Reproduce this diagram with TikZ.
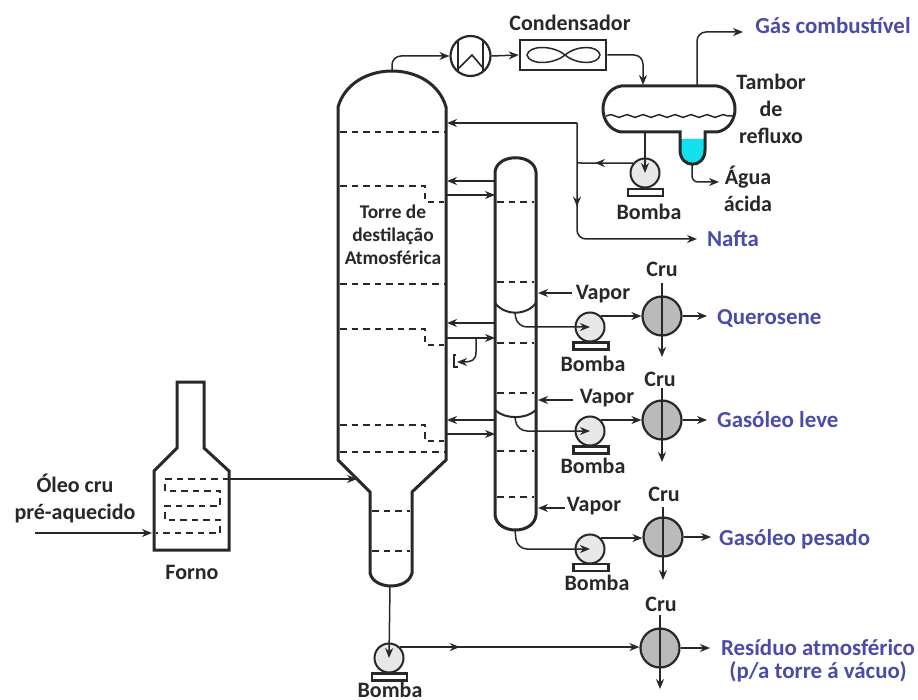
\documentclass[tikz,border=0pt]{standalone}
\usepackage{fontspec}
\setmainfont{Carlito}
\usetikzlibrary{arrows.meta,decorations.markings,decorations.pathmorphing}
\definecolor{ink}{HTML}{26282C}
\definecolor{prod}{HTML}{4A4CA8}
\definecolor{watr}{HTML}{12E0EE}
\tikzset{
 x=1pt,y=-1pt,
 vessel/.style={draw=ink,line width=3pt,line join=miter},
 tray/.style={draw=ink,line width=1.4pt,dash pattern=on 6.5pt off 5pt},
 pipe/.style={draw=ink,line width=1.5pt},
 flow/.style={pipe,-{Stealth[length=10pt,width=8pt]}},
 curved/.style={rounded corners=9pt},
 midflow/.style={postaction={decorate},decoration={markings,mark=at position #1 with {\arrow{Stealth[length=10pt,width=8pt]}}}},
 pumpbody/.style={circle,draw=ink,line width=2pt,fill=black!9,minimum size=29pt,inner sep=0pt},
 pumpbase/.style={draw=ink,line width=2.2pt,fill=white,minimum width=35pt,minimum height=7pt,inner sep=0pt},
 exch/.style={circle,draw=ink,line width=2.2pt,fill=black!27,minimum size=39pt,inner sep=0pt},
 lab/.style={text=ink,font=\bfseries\fontsize{22}{27}\selectfont,inner sep=0pt},
 prodlab/.style={text=prod,font=\bfseries\fontsize{22.9}{23}\selectfont,inner sep=0pt},
 small/.style={text=ink,font=\bfseries\fontsize{19.4}{23}\selectfont,inner sep=0pt},
}
\begin{document}
\begin{tikzpicture}
\useasboundingbox (0,0) rectangle (918,700);
\fill[white] (0,0) rectangle (918,700);
% ---- vessels
\path[vessel] (338,460) -- (338,107) .. controls (352,59) and (432,59) .. (446,107) -- (446,460)
 -- (412,492) -- (412,573) .. controls (408,590.3) and (374,590.3) .. (370,573) -- (370,492) -- cycle;
\path[vessel] (495,172) .. controls (497,153) and (534,153) .. (536,172) -- (536,515)
 .. controls (534,535) and (497,535) .. (495,515) -- cycle;
\path[vessel,line width=2pt] (495,303) .. controls (505,316) and (526,316) .. (536,303);
\path[vessel,line width=2pt] (495,410) .. controls (505,419.5) and (526,419.5) .. (536,410);
% tower trays
\foreach \y in {132,284,452} \path[tray] (340,\y) -- (444,\y);
\foreach \y/\z in {186/202,329/345,425/441} \path[tray] (340,\y) -- (425,\y) -- (425,\z) -- (444,\z);
\foreach \y in {511,551} \path[tray] (372,\y) -- (410,\y);
\foreach \y in {202,282,343,393,451,497} \path[tray] (497,\y) -- (534,\y);
% furnace
\path[vessel] (177,448) -- (177,382) -- (204,382) -- (204,448) -- (229,471) -- (229,550) -- (154,550) -- (154,471) -- cycle;
\path[tray] (229,479) -- (165,479) -- (165,491) -- (220,491) -- (220,506) -- (165,506) -- (165,520) -- (220,520) -- (220,533) -- (156,533);
% condenser shell
\node[circle,draw=ink,line width=2.2pt,minimum size=40pt,inner sep=0pt] (cool) at (470.5,56) {};
\path[pipe,line width=1.6pt] (458,40) -- (458,72) (483,40) -- (483,72) (459,68) -- (472,55) -- (483,68);
\node[draw=ink,line width=2.6pt,minimum width=86pt,minimum height=30pt,inner sep=0pt] (fan) at (563,55) {};
\path[pipe] (527,55) .. controls (529,45) and (553,45) .. (565,55) .. controls (577,45) and (598,45) .. (600,55)
 .. controls (598,65) and (577,65) .. (565,55) .. controls (553,65) and (529,65) .. (527,55) -- cycle;
% reflux drum
\fill[watr] (681,139) -- (704,139) -- (704,150) .. controls (704,168) and (681,168) .. (681,150) -- cycle;
\path[vessel] (621,86) -- (717,86) .. controls (729,88) and (735,99) .. (735,109) .. controls (735,119) and (729,130) .. (717,132)
 -- (705,132) -- (705,150) .. controls (705,169) and (680,169) .. (680,150) -- (680,132) -- (621,132)
 .. controls (609,130) and (603,119) .. (603,109) .. controls (603,99) and (609,88) .. (621,86) -- cycle;
\draw[pipe,decorate,decoration={snake,segment length=16pt,amplitude=1.4pt}] (606,116) -- (733,116);
% ---- pumps and exchangers
\node[pumpbody] (P0) at (645,173) {};
\node[pumpbase] (B0) at (645.5,192.5) {};
\node[pumpbody] (P1) at (590,327) {};
\node[pumpbase] (B1) at (591,346) {};
\node[pumpbody] (P2) at (590,431) {};
\node[pumpbase] (B2) at (591,450) {};
\node[pumpbody] (P3) at (590,549) {};
\node[pumpbase] (B3) at (591,567.5) {};
\node[pumpbody] (P4) at (389,658) {};
\node[pumpbase] (B4) at (389.5,677) {};
\node[exch] (E1) at (662,316) {};
\node[exch] (E2) at (662,420) {};
\node[exch] (E3) at (663,537) {};
\node[exch] (E4) at (660,648) {};
% ---- named ports
\coordinate (towertop) at (392,71);
\coordinate (towerbot) at (390,586);
\coordinate (drumin) at (643,85);
\coordinate (drumgas) at (697,85);
\coordinate (drumliq) at (645,132);
\coordinate (boot) at (692,165);
\coordinate (gasend) at (743,32);
\coordinate (aguaend) at (719,182);
\coordinate (naftaend) at (697,239);
\coordinate (refl) at (447,123);
\coordinate (rail) at (577,163);
\coordinate (railtop) at (577,123);
\coordinate (railbot) at (577,239);
\coordinate (furn) at (229,479);
\coordinate (feed) at (357,479);
\coordinate (oil) at (35,533);
\coordinate (coil) at (152,533);
% ---- overhead
\draw[flow,curved] (towertop) -- (392,56) -- (cool.west);
\draw[flow] (cool.east) -- (fan.west);
\draw[flow,curved] (fan.east) -- (643,55) -- (drumin);
\draw[flow,curved] (drumgas) -- (697,32) -- (gasend);
\draw[flow] (drumliq) -- (P0.center);
\draw[flow,curved,rounded corners=6pt] (boot) -- (692,182) -- (aguaend);
\draw[pipe,midflow=0.68] (P0.140) -- (rail);
\draw[flow,curved] (railtop) -- (refl);
\draw[flow,curved,midflow=0.36] (railtop) -- (railbot) -- (naftaend);
% ---- tower / stripper
\coordinate (t1l) at (447,181); \coordinate (s1l) at (495,181);
\coordinate (t1r) at (446,195); \coordinate (s1r) at (495,195);
\coordinate (t2l) at (447,323); \coordinate (s2l) at (495,323);
\coordinate (t2r) at (446,338); \coordinate (s2r) at (495,338);
\coordinate (t3l) at (447,420); \coordinate (s3l) at (495,420);
\coordinate (t3r) at (446,434); \coordinate (s3r) at (495,434);
\foreach \n in {1,2,3} {
 \draw[flow] (s\n l) -- (t\n l);
 \draw[flow] (t\n r) -- (s\n r);
}
\coordinate (br) at (476,338); \coordinate (brend) at (457,362);
\draw[flow] (br) -- (476,352) .. controls (476,360) and (472,362) .. (brend);
\path[pipe,line width=1.2pt] (456,355) -- (454,355) -- (454,367) -- (458,367);
% ---- vapor
\coordinate (v1) at (572,293); \coordinate (v1t) at (538,293);
\coordinate (v2) at (573,400); \coordinate (v2t) at (538,400);
\coordinate (v3) at (565,508); \coordinate (v3t) at (538,508);
\draw[flow] (v1) -- (v1t);
\draw[flow] (v2) -- (v2t);
\draw[flow] (v3) -- (v3t);
% ---- side draws
\coordinate (d1) at (515,313); \coordinate (d2) at (515,417); \coordinate (d3) at (515,530);
\draw[flow,rounded corners=10pt] (d1) -- (517,327) -- (P1.center);
\draw[flow,rounded corners=10pt] (d2) -- (517,431) -- (P2.center);
\draw[flow,rounded corners=10pt] (d3) -- (517,549) -- (P3.center);
\draw[flow] (P1.45) -- (P1.45 -| E1.west);
\draw[flow] (P2.45) -- (P2.45 -| E2.west);
\draw[flow] (P3.45) -- (P3.45 -| E3.west);
\draw[flow,midflow=0.25] (P4.45) -- (P4.45 -| E4.west);
\draw[flow] (towerbot) -- (P4.center);
% ---- exchanger utility
\foreach \n/\top/\bot/\ou in {1/283/357/707,2/388/462/707,3/507/580/711,4/615/689/710} {
 \coordinate (E\n t) at (E\n |- 0,\top);
 \coordinate (E\n b) at (E\n |- 0,\bot);
 \coordinate (E\n o) at (\ou,0 |- E\n);
 \draw[flow] (E\n t) -- (E\n b);
 \draw[flow] (E\n.east) -- (E\n o);
}
% ---- feed
\draw[flow] (oil) -- (coil);
\draw[flow] (furn) -- (feed);
% ---- labels
\node[lab] (tc) at (570,23) {Condensador};
\node[prodlab] (tg) at (833,26) {Gás combustível};
\node[lab,align=center] (td) at (771,109) {Tambor\\de\\refluxo};
\node[lab,align=center] (ta) at (748,189) {Água\\ácida};
\node[lab] (b0) at (649,212) {Bomba};
\node[prodlab] (tn) at (733,239) {Nafta};
\node[small,align=center] (tt) at (393,235) {Torre de\\destilação\\Atmosférica};
\node[lab] (c1) at (662,269) {Cru};
\node[lab] (c2) at (660,379) {Cru};
\node[lab] (c3) at (664,494) {Cru};
\node[lab] (c4) at (661,604) {Cru};
\node[lab] (vp1) at (603,294) {Vapor};
\node[lab] (vp2) at (607,398) {Vapor};
\node[lab] (vp3) at (594,506) {Vapor};
\node[lab] (b1) at (593,364) {Bomba};
\node[lab] (b2) at (593,466) {Bomba};
\node[lab] (b3) at (597,583) {Bomba};
\node[lab] (b4) at (390,689.5) {Bomba};
\node[prodlab,anchor=west] (pq) at (717,318) {Querosene};
\node[prodlab,anchor=west] (pl) at (717,420) {Gasóleo leve};
\node[prodlab,anchor=west] (pp) at (719,539) {Gasóleo pesado};
\node[prodlab,align=center] (pr) at (818,660.5) {Resíduo atmosférico\\(p/a torre á vácuo)};
\node[lab,align=center] (to) at (75,498) {Óleo cru\\pré-aquecido};
\node[lab] (tf) at (192,572) {Forno};
\end{tikzpicture}
\end{document}
